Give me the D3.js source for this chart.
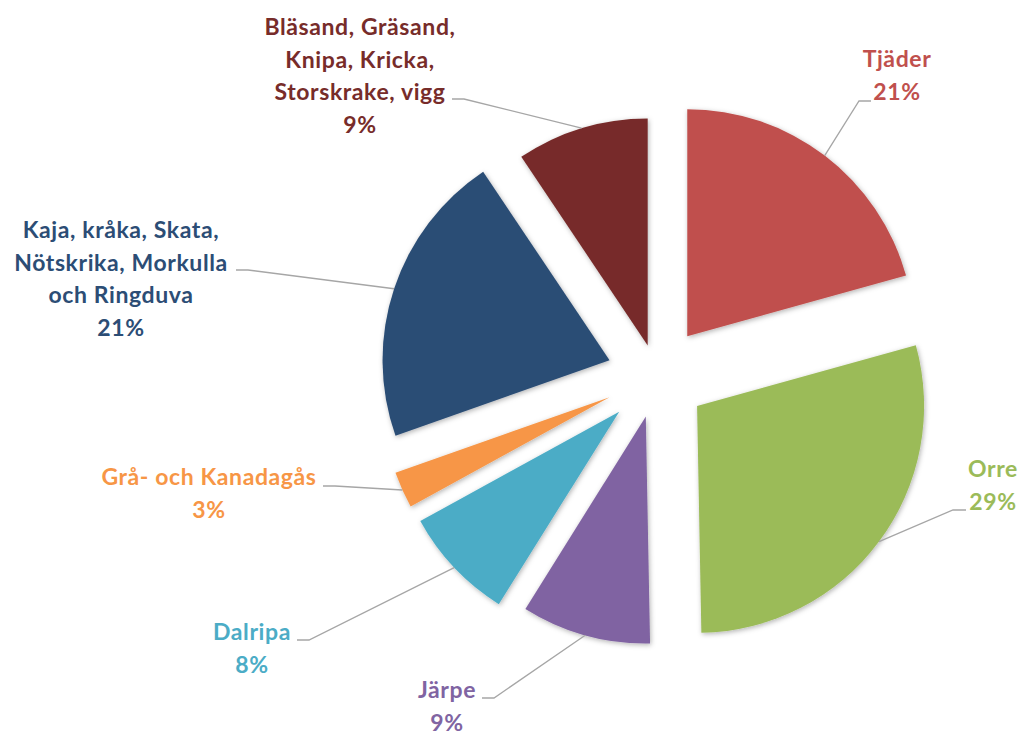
<!DOCTYPE html>
<html>
<head>
<meta charset="utf-8">
<script src="https://cdn.jsdelivr.net/npm/d3@7/dist/d3.min.js"></script>
<style>
  html, body { margin: 0; padding: 0; background: #fff; }
  svg { display: block; }
  text { font-family: Lato, "Open Sans", sans-serif; font-weight: 700; }
</style>
</head>
<body>
<svg id="chart" width="1019" height="731"></svg>
<script>
// ---- data ----
const categories = [
  ["Tjäder"],
  ["Orre"],
  ["Järpe"],
  ["Dalripa"],
  ["Grå- och Kanadagås"],
  ["Kaja, kråka, Skata,", "Nötskrika, Morkulla", "och Ringduva"],
  ["Bläsand, Gräsand,", "Knipa, Kricka,", "Storskrake, vigg"]
];
const values = [20.7, 29.0, 9.2, 8.1, 2.6, 21.0, 9.4];

// ---- styles / layout ----
const colors = ["#C0504D", "#9BBB59", "#8064A2", "#4BACC6", "#F79646", "#2C4D75", "#772C2A"];
const explode = [50, 50, 42, 52, 52, 50, 32];
const labelLayout = [
  {x: 897, y: 67,  lx: 871, ly: 101, stub: -12},
  {x: 993, y: 477, lx: 966, ly: 510, stub: -13},
  {x: 447, y: 698, lx: 482, ly: 698, stub: 12},
  {x: 252, y: 640, lx: 297, ly: 640, stub: 12},
  {x: 209, y: 485, lx: 323, ly: 486, stub: 12},
  {x: 121, y: 238, lx: 236, ly: 270, stub: 12},
  {x: 360, y: 35,  lx: 452, ly: 99,  stub: 12}
];
const lineHeight = 32.5;
const cx = 657, cy = 376, R = 227;

const svg = d3.select("#chart");
const defs = svg.append("defs");
const f = defs.append("filter").attr("id", "shadow")
  .attr("x", "-20%").attr("y", "-20%").attr("width", "140%").attr("height", "140%");
f.append("feDropShadow").attr("dx", 1).attr("dy", 1.5).attr("stdDeviation", 2.5)
  .attr("flood-color", "#000").attr("flood-opacity", 0.3);

const pie = d3.pie().sort(null).value(d => d)(values);
const arc = d3.arc().innerRadius(0).outerRadius(R);
const edgeArc = d3.arc().innerRadius(R).outerRadius(R);
const total = d3.sum(values);

const g = svg.append("g").attr("transform", `translate(${cx},${cy})`);

function offset(d, i) {
  const a = (d.startAngle + d.endAngle) / 2;
  return [Math.sin(a) * explode[i], -Math.cos(a) * explode[i]];
}

g.selectAll("path.slice").data(pie).enter().append("path")
  .attr("class", "slice")
  .attr("d", arc)
  .attr("fill", (d, i) => colors[i])
  .attr("filter", "url(#shadow)")
  .attr("transform", (d, i) => { const o = offset(d, i); return `translate(${o[0]},${o[1]})`; });

// leader lines
pie.forEach((d, i) => {
  const o = offset(d, i);
  const c = edgeArc.centroid(d);
  const ex = cx + o[0] + c[0], ey = cy + o[1] + c[1];
  const L = labelLayout[i];
  svg.append("polyline")
    .attr("points", `${L.lx},${L.ly} ${L.lx + L.stub},${L.ly} ${ex},${ey}`)
    .attr("fill", "none").attr("stroke", "#A6A6A6").attr("stroke-width", 1.3);
});

// labels
pie.forEach((d, i) => {
  const L = labelLayout[i];
  const lines = categories[i].concat([Math.round(values[i] / total * 100) + "%"]);
  const t = svg.append("text")
    .attr("text-anchor", "middle")
    .attr("fill", colors[i])
    .attr("font-size", 23)
    .attr("letter-spacing", 0.6);
  lines.forEach((s, k) => {
    t.append("tspan").attr("x", L.x).attr("y", L.y + k * lineHeight).text(s);
  });
});
</script>
</body>
</html>
